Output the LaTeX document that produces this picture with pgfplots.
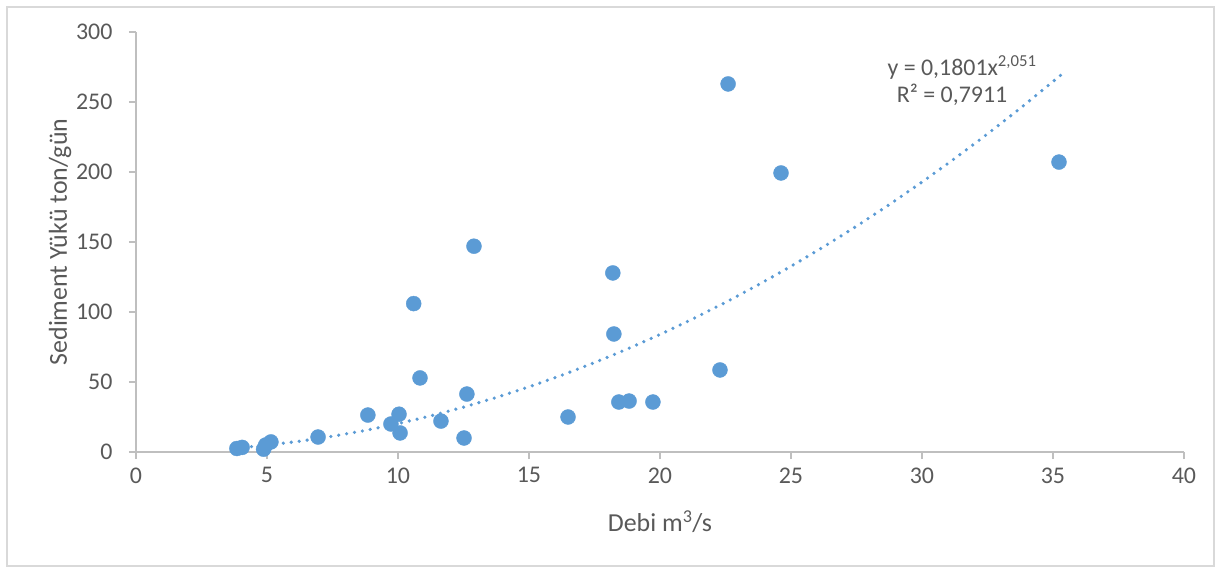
\documentclass[border=0pt]{standalone}
\usepackage{fontspec}
\setmainfont{Carlito}
\usepackage{pgfplots}
\pgfplotsset{compat=1.18}
\definecolor{pt}{HTML}{5B9BD5}
\definecolor{ax}{HTML}{BFBFBF}
\definecolor{tx}{HTML}{595959}
\definecolor{bd}{HTML}{D9D9D9}
\begin{document}
\begin{tikzpicture}
\path[use as bounding box] (-136bp,-115bp) rectangle (1081bp,452bp);
\draw[bd, line width=1.2bp] (-129bp,-114bp) rectangle (1078bp,445bp);
\begin{axis}[
  at={(0,0)}, anchor=south west,
  scale only axis, width=1048bp, height=420bp,
  xmin=0, xmax=40, ymin=0, ymax=300,
  xtick={0,5,...,40}, ytick={0,50,...,300},
  axis x line*=bottom, axis y line*=left,
  axis line style={ax, line width=1.3bp},
  every tick/.style={ax, line width=1.3bp},
  tick align=outside, major tick length=7bp,
  ticklabel style={font=\fontsize{24}{28}\selectfont, text=tx},
  yticklabel style={xshift=-13bp},
  xticklabel style={yshift=-5bp},
  /pgf/number format/assume math mode=true,
  xlabel={Debi m\textsuperscript{3}/s},
  ylabel={Sediment Yükü ton/gün},
  label style={font=\fontsize{26}{30}\selectfont, text=tx},
  xlabel style={at={(axis description cs:0.5,0)}, anchor=center, yshift=-70bp},
  ylabel style={at={(axis description cs:0,0.5)}, anchor=center, yshift=76bp},
  clip=false,
]
\addplot[only marks, mark=*, mark size=7.5bp, draw=pt, fill=pt] table {
x y
3.85 2.5
4.05 3.3
4.87 2.0
4.95 5.0
5.15 7.2
6.95 10.7
8.85 26.4
9.73 20.0
10.04 27.0
10.08 13.6
10.6 106
10.84 52.9
11.64 22.1
12.52 10.0
12.63 41.4
12.9 147
16.49 25
18.2 127.9
18.24 84.3
18.43 35.7
18.82 36.4
19.73 35.7
22.29 58.6
22.6 262.9
24.62 199.3
35.23 207.1
};
\addplot[pt, line width=3.6bp, line cap=round, dash pattern=on 0bp off 8bp] table {
x y
3.8 2.78
5 4.89
6.25 7.70
7.5 11.23
8.75 15.37
10 20.25
11.25 25.79
12.5 32.01
13.75 38.92
15 46.53
16.25 54.83
17.5 63.83
18.75 73.52
20 83.93
21.25 95.04
22.5 106.87
23.75 119.40
25 132.64
26.25 146.58
27.5 161.28
28.75 176.67
30 192.79
31.25 209.64
32.5 227.2
33.75 245.48
35.3 269.2
};
\node[font=\fontsize{24}{28}\selectfont, text=tx] at (axis cs:31.53,274.3) {y = 0,1801x\textsuperscript{2,051}};
\node[font=\fontsize{24}{28}\selectfont, text=tx] at (axis cs:31.15,255) {R² = 0,7911};
\end{axis}
\end{tikzpicture}
\end{document}
